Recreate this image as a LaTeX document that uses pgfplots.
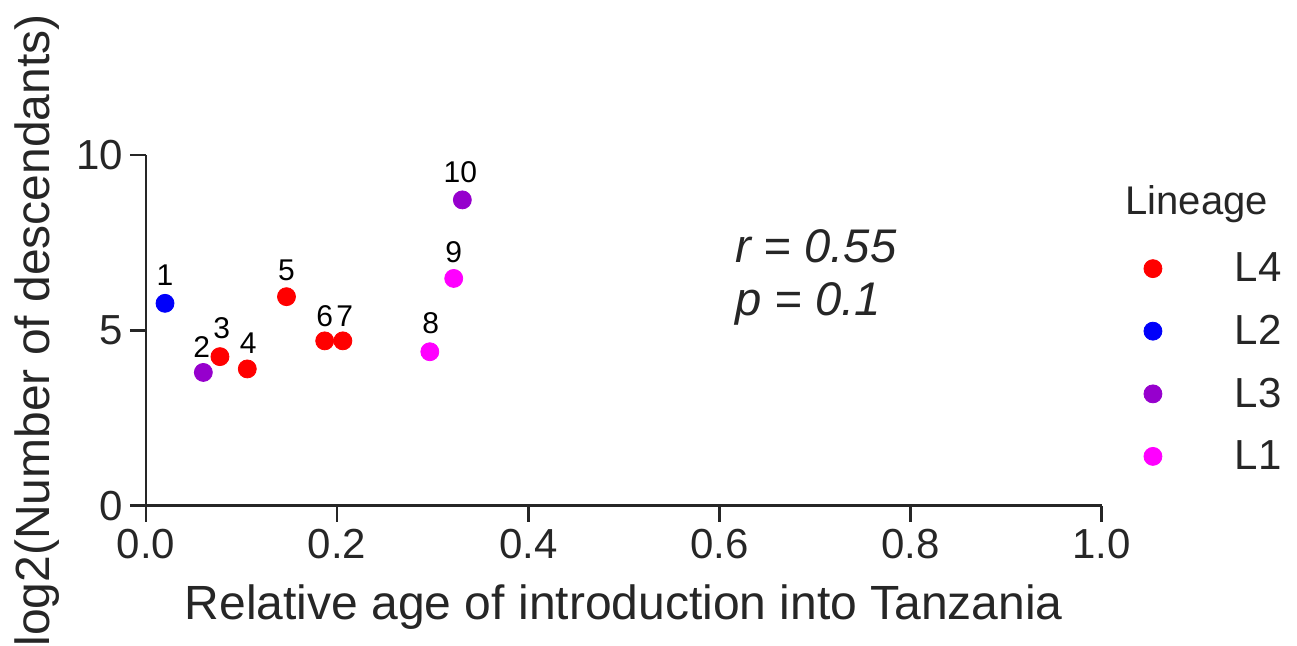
\documentclass[border=0pt]{standalone}
\usepackage{pgfplots}
\pgfplotsset{compat=1.18}
\usepackage{fontspec}
\setmainfont{Liberation Sans}
\definecolor{cLfour}{RGB}{255,0,0}
\definecolor{cLtwo}{RGB}{0,0,250}
\definecolor{cLthree}{RGB}{150,0,205}
\definecolor{cLone}{RGB}{255,0,255}
\definecolor{axc}{RGB}{38,38,38}
\begin{document}
\begin{tikzpicture}
\begin{axis}[name=ax,
 width=477.85pt, height=175.35pt, scale only axis,
 xmin=0, xmax=1, ymin=0, ymax=10,
 axis x line*=bottom, axis y line*=left,
 axis line style={axc, line width=1.3pt},
 tick style={axc, line width=1.3pt},
 tick align=outside, major tick length=8pt,
 xtick={0,0.2,0.4,0.6,0.8,1}, xticklabels={0.0,0.2,0.4,0.6,0.8,1.0},
 ytick={0,5,10}, yticklabels={0,5,10},
 tick label style={font=\fontsize{21}{24}\selectfont, text=axc},
 xlabel={Relative age of introduction into Tanzania},
 ylabel={log2(Number of descendants)},
 label style={font=\fontsize{24}{28}\selectfont, text=axc},
 xlabel style={at={(axis description cs:0.5,-0.325)}, anchor=base},
 ylabel style={at={(axis description cs:-0.1005,0.5)}, anchor=base},
 clip=false,
 legend style={draw=none, fill=none, inner sep=0pt, outer sep=0pt,
   at={(axis description cs:1.0442,0.7214)}, anchor=north west,
   font=\fontsize{21}{24}\selectfont, text=axc,
   nodes={inner sep=0pt},
   row sep=15.2pt,
   /tikz/every odd column/.append style={column sep=36.5pt}},
 legend cell align=left,
]
\addplot[only marks, mark=*, mark size=4.5pt, color=cLfour, mark options={draw=cLfour, fill=cLfour}] coordinates {
 (0.0774,4.25) (0.106,3.90) (0.147,5.96) (0.187,4.70) (0.206,4.70)};
\addlegendentry{L4}
\addplot[only marks, mark=*, mark size=4.5pt, color=cLtwo, mark options={draw=cLtwo, fill=cLtwo}] coordinates {
 (0.0199,5.77)};
\addlegendentry{L2}
\addplot[only marks, mark=*, mark size=4.5pt, color=cLthree, mark options={draw=cLthree, fill=cLthree}] coordinates {
 (0.060,3.80) (0.331,8.72)};
\addlegendentry{L3}
\addplot[only marks, mark=*, mark size=4.5pt, color=cLone, mark options={draw=cLone, fill=cLone}] coordinates {
 (0.297,4.39) (0.322,6.48)};
\addlegendentry{L1}

\begin{scope}[every node/.style={font=\fontsize{15}{17}\selectfont, anchor=base, inner sep=0pt}]
\node at (axis cs:0.0199,6.28) {1};
\node at (axis cs:0.0583,4.22) {2};
\node at (axis cs:0.0792,4.76) {3};
\node at (axis cs:0.107,4.33) {4};
\node at (axis cs:0.147,6.42) {5};
\node at (axis cs:0.187,5.11) {6};
\node at (axis cs:0.208,5.11) {7};
\node at (axis cs:0.298,4.90) {8};
\node at (axis cs:0.322,6.94) {9};
\node at (axis cs:0.329,9.22) {10};
\end{scope}
\node[anchor=base west, inner sep=0pt, text=axc, font=\itshape\fontsize{23.6}{27}\selectfont] at (axis cs:0.616,6.93) {r = 0.55};
\node[anchor=base west, inner sep=0pt, text=axc, font=\itshape\fontsize{23.6}{27}\selectfont] at (axis cs:0.616,5.42) {p = 0.1};
\node[anchor=base west, inner sep=0pt, text=axc, font=\fontsize{20}{24}\selectfont] at ([xshift=489.5pt,yshift=145.35pt]rel axis cs:0,0) {Lineage};
\end{axis}
\pgfresetboundingbox
\useasboundingbox ([shift={(-73pt,-70.15pt)}]ax.south west) rectangle ([shift={(575.5pt,252.85pt)}]ax.south west);
\end{tikzpicture}
\end{document}
